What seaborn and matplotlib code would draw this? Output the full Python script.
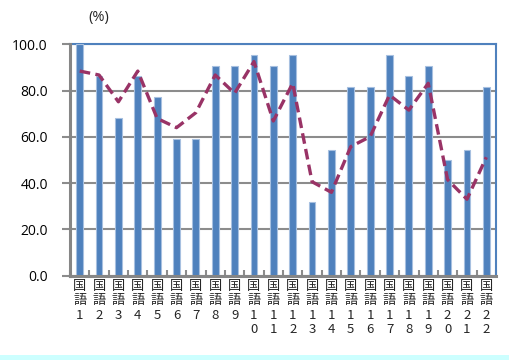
import matplotlib
matplotlib.use("Agg")
import matplotlib.pyplot as plt
import numpy as np
import pandas as pd
import seaborn as sns
from matplotlib.patches import Rectangle

# Item labels (国語1 ... 国語22) and the two series
items = [f"国語{i}" for i in range(1, 23)]
bar_rates = [100.0, 86.4, 68.2, 86.4, 77.3, 59.1, 59.1, 90.9, 90.9, 95.5, 90.9,
             95.5, 31.8, 54.5, 81.8, 81.8, 95.5, 86.4, 90.9, 50.0, 54.5, 81.8]
line_rates = [88.5, 86.8, 75.2, 88.5, 68.0, 64.0, 70.5, 86.8, 78.9, 92.6, 66.9,
              83.2, 40.6, 36.0, 55.8, 60.1, 78.1, 71.6, 83.2, 41.5, 33.0, 51.2]
y_ticks = [0, 20, 40, 60, 80, 100]

sns.set_theme(style="white")
plt.rcParams["font.family"] = ["Open Sans", "DejaVu Sans"]

df = pd.DataFrame({"item": items, "pos": np.arange(len(items)),
                   "bar": bar_rates, "line": line_rates})

fig = plt.figure(figsize=(5.1, 3.6), dpi=100)
fig.patch.set_facecolor("white")
ax = fig.add_axes([70 / 510, 1 - 275.5 / 360, 426 / 510, 231 / 360])

sns.barplot(data=df, x="pos", y="bar", color="#4f81bd", width=0.35,
            edgecolor="#a7c0e0", linewidth=0.8, saturation=1, ax=ax, zorder=3)
sns.lineplot(data=df, x="pos", y="line", color="#993366", linewidth=2.4,
             linestyle=(0, (3.2, 1.6)), ax=ax, zorder=4)

ax.set_xlim(-0.5, len(items) - 0.5)
ax.set_ylim(0, 100)
ax.set_yticks(y_ticks)
ax.set_yticklabels([f"{v:.1f}" for v in y_ticks], fontsize=10, color="#000000")
ax.yaxis.grid(True, color="#8c8c8c", linewidth=1.5, zorder=0)
ax.set_axisbelow(True)

# Vertical stacked tick labels
def vertical(label):
    return "\n".join(list(label))

ax.set_xticks(df["pos"])
ax.set_xticklabels([vertical(s) for s in items], fontsize=9.5,
                   family=["Noto Sans CJK JP", "DejaVu Sans"],
                   linespacing=1.15, va="top")
ax.tick_params(axis="x", length=0, pad=3)
ax.tick_params(axis="y", length=6, width=1.5, color="#8c8c8c", direction="out", pad=10, left=True)

# Category boundary ticks on the bottom axis
ax.set_xticks(np.arange(-0.5, len(items), 1.0), minor=True)
ax.tick_params(axis="x", which="minor", length=4, width=1.5, color="#8c8c8c",
               direction="in", bottom=True)

ax.set_xlabel("")
ax.set_ylabel("")

for side in ("left", "bottom"):
    ax.spines[side].set_color("#868686")
    ax.spines[side].set_linewidth(2.2)
    ax.spines[side].set_zorder(5)
for side in ("top", "right"):
    ax.spines[side].set_color("#4f81bd")
    ax.spines[side].set_linewidth(1.5)

fig.text(88 / 510, 1 - 17 / 360, "(%)", fontsize=10.5, ha="left", va="center")

# Pale cyan band along the bottom edge
fig.patches.append(Rectangle((0, 0), 1, 5 / 360, transform=fig.transFigure,
                             facecolor="#ccffff", edgecolor="none", zorder=0))

fig.savefig("out.png", dpi=100)
